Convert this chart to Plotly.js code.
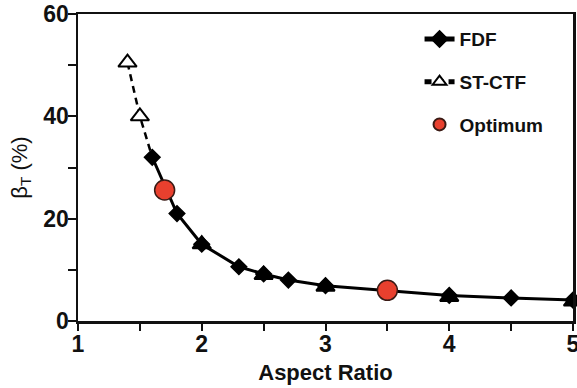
<!DOCTYPE html>
<html>
<head>
<meta charset="utf-8">
<script src="https://cdn.plot.ly/plotly-3.0.1.min.js"></script>
<style>
  html, body { margin: 0; padding: 0; background: #fff; }
  #chart { width: 577px; height: 388px; }
</style>
</head>
<body>
<div id="chart"></div>
<script>
// Toroidal beta limit versus aspect ratio
const fdfX = [1.6, 1.8, 2.0, 2.3, 2.5, 2.7, 3.0, 4.0, 4.5, 5.0];
const fdfY = [32, 21, 15, 10.6, 9.2, 8.0, 6.9, 5.0, 4.5, 4.1];

const ctfX = [1.4, 1.5, 2.0, 2.5, 3.0, 4.0, 5.0];
const ctfY = [50.5, 40, 15, 9, 6.7, 4.7, 3.8];

const optX = [1.7, 3.5];
const optY = [25.6, 6.0];

const font = "Liberation Sans, Arial, Helvetica, sans-serif";

// dashed ST-CTF branch runs from the low-aspect points into the first FDF point
const dashX = ctfX.slice(0, 2).concat([fdfX[0]]);
const dashY = ctfY.slice(0, 2).concat([fdfY[0]]);

const traces = [
  {
    x: dashX, y: dashY, name: 'ST-CTF', legendgroup: 'ctf', legendrank: 2,
    mode: 'lines+markers', cliponaxis: false,
    line: { color: '#000', width: 2.5, dash: '7px,5px' },
    marker: { symbol: 'triangle-up', size: [16, 16, 0], color: '#fff', opacity: 1,
              line: { color: '#000', width: 2 } }
  },
  {
    // triangles that sit underneath the FDF diamonds
    x: ctfX.slice(2), y: ctfY.slice(2), name: 'ST-CTF', legendgroup: 'ctf',
    showlegend: false, mode: 'markers', cliponaxis: false,
    marker: { symbol: 'triangle-up', size: 16, color: '#000', opacity: 1,
              line: { color: '#000', width: 2 } }
  },
  {
    x: fdfX, y: fdfY, name: 'FDF', legendgroup: 'fdf', legendrank: 1,
    mode: 'lines+markers', cliponaxis: false,
    line: { color: '#000', width: 3 },
    marker: { symbol: 'diamond', size: 12, color: '#000', opacity: 1,
              line: { color: '#000', width: 1.5 } }
  },
  {
    x: optX, y: optY, name: 'Optimum', legendgroup: 'opt', legendrank: 3,
    mode: 'markers', cliponaxis: false,
    marker: { symbol: 'circle', size: 20, color: '#e8402e', opacity: 1,
              line: { color: '#3a1a14', width: 1.5 } }
  }
];

const layout = {
  width: 577, height: 388,
  margin: { l: 78, r: 4, t: 14, b: 67 },
  paper_bgcolor: '#fff', plot_bgcolor: '#fff',
  font: { family: font, size: 20, color: '#111' },
  showlegend: true,
  legend: {
    x: 0.69, y: 0.98, xanchor: 'left', yanchor: 'top',
    traceorder: 'grouped', tracegroupgap: 15, itemsizing: 'constant',
    font: { family: font, size: 19, color: '#111', weight: 'bold' },
    bgcolor: 'rgba(0,0,0,0)'
  },
  xaxis: {
    range: [1, 5], dtick: 1, tick0: 1,
    showgrid: false, zeroline: false,
    showline: true, linecolor: '#111', linewidth: 2.5, mirror: true,
    ticks: 'outside', ticklen: 7, tickwidth: 2, tickcolor: '#111',
    minor: { dtick: 0.5, ticks: 'outside', ticklen: 7, tickwidth: 2, tickcolor: '#111' },
    ticklabeloverflow: 'allow', ticklabelstandoff: -6,
    tickfont: { family: font, size: 23, weight: 'bold' },
    title: { text: 'Aspect Ratio', standoff: 9,
             font: { family: font, size: 22, weight: 'bold' } }
  },
  yaxis: {
    range: [0, 60], dtick: 20,
    showgrid: false, zeroline: false,
    showline: true, linecolor: '#111', linewidth: 2.5, mirror: true,
    ticks: 'outside', ticklen: 8, tickwidth: 2, tickcolor: '#111',
    minor: { dtick: 10, ticks: 'outside', ticklen: 8, tickwidth: 2, tickcolor: '#111' },
    ticklabeloverflow: 'allow', ticklabelstandoff: -6,
    tickfont: { family: font, size: 23, weight: 'bold' },
    title: { text: 'β<sub>T</sub> (%)', standoff: 10,
             font: { family: font, size: 22 } }
  }
};

Plotly.newPlot('chart', traces, layout, { displayModeBar: false, staticPlot: true });
</script>
</body>
</html>
